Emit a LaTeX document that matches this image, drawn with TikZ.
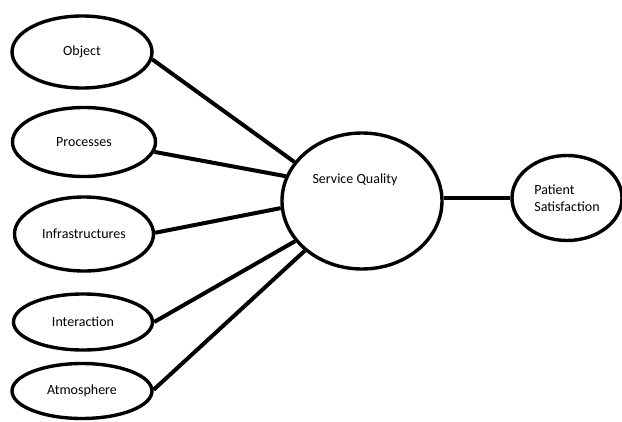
\documentclass[tikz,border=0pt]{standalone}
\usepackage{fontspec}
\setmainfont{Carlito}
\usetikzlibrary{shapes.geometric}
\begin{document}
\begin{tikzpicture}[x=1pt,y=-1pt,
  ell/.style={draw=black,ellipse,line width=3.4pt,inner sep=0pt,font=\fontsize{14}{17}\selectfont},
  lnk/.style={line width=4pt}]
\useasboundingbox (0,0) rectangle (622,421);
\node[ell,minimum width=140,minimum height=72] (obj) at (82,52) {Object};
\node[ell,minimum width=143,minimum height=69] (pro) at (84,142) {Processes};
\node[ell,minimum width=139,minimum height=74] (inf) at (84,234) {Infrastructures};
\node[ell,minimum width=139,minimum height=56] (int) at (83,322) {Interaction};
\node[ell,minimum width=140,minimum height=55] (atm) at (82,391) {Atmosphere};
\node[ell,minimum width=160,minimum height=136] (sq) at (362,201) {};
\node[font=\fontsize{14}{17}\selectfont] (sqt) at (355,180) {Service Quality};
\node[ell,minimum width=110,minimum height=85,align=left] (ps) at (567,198) {Patient\\Satisfaction};
\draw[lnk] (obj.-6) -- (sq.150);
\draw[lnk] (pro.-8) -- (sq.162);
\draw[lnk] (inf.1) -- (sq.185);
\draw[lnk] (int.0) -- (sq.211);
\draw[lnk] (atm.1) -- (sq.221);
\draw[lnk] (sq.east |- ps.west) -- (ps.west);
\end{tikzpicture}
\end{document}
